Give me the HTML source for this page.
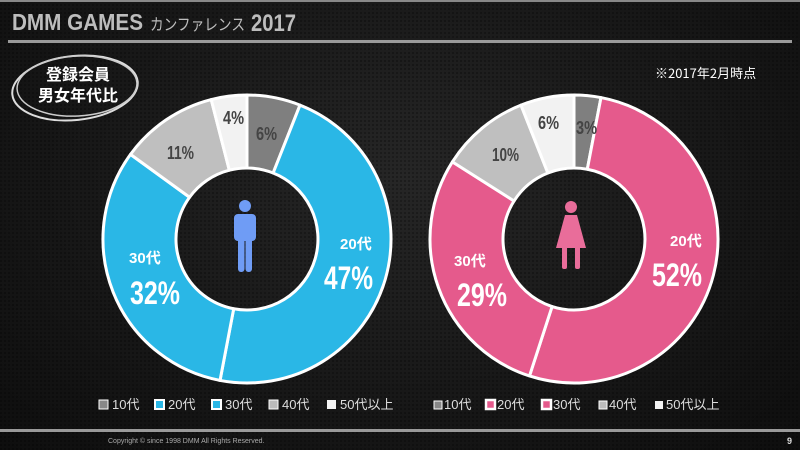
<!DOCTYPE html>
<html><head><meta charset="utf-8">
<style>
body{margin:0;background:#111;}
#c{position:relative;width:800px;height:450px;overflow:hidden;background:radial-gradient(ellipse at 50% 40%,#262626 0%,#171717 60%,#0e0e0e 100%);font-family:"Liberation Sans","Noto Sans CJK JP",sans-serif;}
</style></head><body>
<div id="c">
<svg width="800" height="450" viewBox="0 0 800 450" xmlns="http://www.w3.org/2000/svg" style="position:absolute;left:0;top:0">
<defs><pattern id="tx" width="4" height="4" patternUnits="userSpaceOnUse"><rect width="2" height="2" fill="#000" opacity="0.25"/></pattern></defs>
<rect width="800" height="450" fill="url(#tx)"/>
<rect x="0" y="0" width="800" height="2" fill="#888"/>
<text x="12" y="30" font-family="Liberation Sans" font-weight="bold" font-size="23" fill="#bdbdbd" textLength="131" lengthAdjust="spacingAndGlyphs">DMM GAMES</text>
<text x="150" y="30" font-family="Noto Sans CJK JP" font-size="16" fill="#bdbdbd" textLength="95" lengthAdjust="spacingAndGlyphs">カンファレンス</text>
<text x="251" y="31" font-family="Liberation Sans" font-weight="bold" font-size="24" fill="#bdbdbd" textLength="45" lengthAdjust="spacingAndGlyphs">2017</text>
<rect x="8" y="40" width="784" height="3" fill="#9a9a9a"/>
<ellipse cx="75" cy="88" rx="63" ry="32" fill="none" stroke="#ddd" stroke-width="2" transform="rotate(-6 75 88)"/>
<ellipse cx="77" cy="86" rx="60" ry="30" fill="none" stroke="#ccc" stroke-width="1.5" transform="rotate(-3 77 86)"/>
<text x="78" y="80" text-anchor="middle" font-family="Noto Sans CJK JP" font-weight="bold" font-size="16" fill="#fff">登録会員</text>
<text x="78" y="101" text-anchor="middle" font-family="Noto Sans CJK JP" font-weight="bold" font-size="16" fill="#fff">男女年代比</text>
<text x="655" y="78" font-family="Noto Sans CJK JP" font-size="13" fill="#fff">※2017年2月時点</text>
<g id="d1"></g><g id="d2"></g>
<g font-family="Liberation Sans" font-weight="bold" lengthAdjust="spacingAndGlyphs">
<text x="256" y="140" font-size="18" fill="#444" textLength="21" lengthAdjust="spacingAndGlyphs">6%</text>
<text x="223" y="124" font-size="18" fill="#444" textLength="21" lengthAdjust="spacingAndGlyphs">4%</text>
<text x="167" y="159" font-size="18" fill="#444" textLength="27" lengthAdjust="spacingAndGlyphs">11%</text>
<text x="340" y="249" font-size="15" fill="#fff">20<tspan font-family="Noto Sans CJK JP">代</tspan></text>
<text x="324" y="289" font-size="32" fill="#fff" textLength="49" lengthAdjust="spacingAndGlyphs">47%</text>
<text x="129" y="263" font-size="15" fill="#fff">30<tspan font-family="Noto Sans CJK JP">代</tspan></text>
<text x="130" y="304" font-size="32" fill="#fff" textLength="50" lengthAdjust="spacingAndGlyphs">32%</text>
<text x="576" y="134" font-size="18" fill="#444" textLength="21" lengthAdjust="spacingAndGlyphs">3%</text>
<text x="538" y="129" font-size="18" fill="#444" textLength="21" lengthAdjust="spacingAndGlyphs">6%</text>
<text x="492" y="161" font-size="18" fill="#444" textLength="27" lengthAdjust="spacingAndGlyphs">10%</text>
<text x="670" y="246" font-size="15" fill="#fff">20<tspan font-family="Noto Sans CJK JP">代</tspan></text>
<text x="652" y="286" font-size="32" fill="#fff" textLength="50" lengthAdjust="spacingAndGlyphs">52%</text>
<text x="454" y="266" font-size="15" fill="#fff">30<tspan font-family="Noto Sans CJK JP">代</tspan></text>
<text x="457" y="306" font-size="32" fill="#fff" textLength="50" lengthAdjust="spacingAndGlyphs">29%</text>
</g>
<g fill="#6f9cf5">
<circle cx="245" cy="206" r="6"/>
<rect x="234" y="214" width="22" height="27" rx="4"/>
<rect x="238" y="232" width="6.5" height="40" rx="3"/><rect x="245.5" y="232" width="6.5" height="40" rx="3"/>
</g>
<g fill="#e96d9a">
<circle cx="571" cy="207" r="6"/>
<path d="M565 215 H577 L586 248 H556 Z"/>
<rect x="562" y="245" width="5" height="24" rx="2"/><rect x="575" y="245" width="5" height="24" rx="2"/>
</g>
<g font-family="Liberation Sans,Noto Sans CJK JP" font-size="13" fill="#ddd">
<rect x="99" y="400" width="9" height="9" fill="#888" stroke="#fff"/><text x="112" y="409">10代</text>
<rect x="155" y="400" width="9" height="9" fill="#2ab7e6" stroke="#fff" stroke-width="2"/><text x="168" y="409">20代</text>
<rect x="212" y="400" width="9" height="9" fill="#2ab7e6" stroke="#fff" stroke-width="2"/><text x="225" y="409">30代</text>
<rect x="269" y="400" width="9" height="9" fill="#bbb" stroke="#fff"/><text x="282" y="409">40代</text>
<rect x="327" y="400" width="9" height="9" fill="#f2f2f2"/><text x="340" y="409">50代以上</text>
<rect x="434" y="401" width="8" height="8" fill="#888" stroke="#fff"/><text x="444" y="409">10代</text>
<rect x="486" y="400" width="9" height="9" fill="#e55a8c" stroke="#fff" stroke-width="2.5"/><text x="497" y="409">20代</text>
<rect x="542" y="400" width="9" height="9" fill="#e55a8c" stroke="#fff" stroke-width="2.5"/><text x="553" y="409">30代</text>
<rect x="599" y="401" width="8" height="8" fill="#bbb" stroke="#fff"/><text x="609" y="409">40代</text>
<rect x="655" y="401" width="8" height="8" fill="#f2f2f2"/><text x="666" y="409">50代以上</text>
</g>
<rect x="0" y="429" width="800" height="3" fill="#9a9a9a"/>
<text x="108" y="443" font-family="Liberation Sans" font-size="7" fill="#aaa">Copyright © since 1998 DMM All Rights Reserved.</text>
<text x="787" y="444" font-family="Liberation Sans" font-weight="bold" font-size="9" fill="#ddd">9</text>
</svg>
</div>
<script>
function donut(id,cx,cy,R,r,vals,cols){
  var g=document.getElementById(id),a=0,s='';
  function p(rad,an){return (cx+rad*Math.sin(an)).toFixed(2)+' '+(cy-rad*Math.cos(an)).toFixed(2);}
  for(var i=0;i<vals.length;i++){
    var a0=a,a1=a+vals[i]/100*2*Math.PI;a=a1;
    var L=(a1-a0)>Math.PI?1:0;
    s+='<path d="M'+p(R,a0)+' A'+R+' '+R+' 0 '+L+' 1 '+p(R,a1)+' L'+p(r,a1)+' A'+r+' '+r+' 0 '+L+' 0 '+p(r,a0)+' Z" fill="'+cols[i]+'" stroke="#fff" stroke-width="3" stroke-linejoin="round"/>';
  }
  g.innerHTML=s;
}
donut('d1',247,239,144,71,[6,47,32,11,4],['#7f7f7f','#2ab7e6','#2ab7e6','#bfbfbf','#f2f2f2']);
donut('d2',574,239,144,71,[3,52,29,10,6],['#7f7f7f','#e55a8c','#e55a8c','#bfbfbf','#f2f2f2']);
</script>
</body></html>
